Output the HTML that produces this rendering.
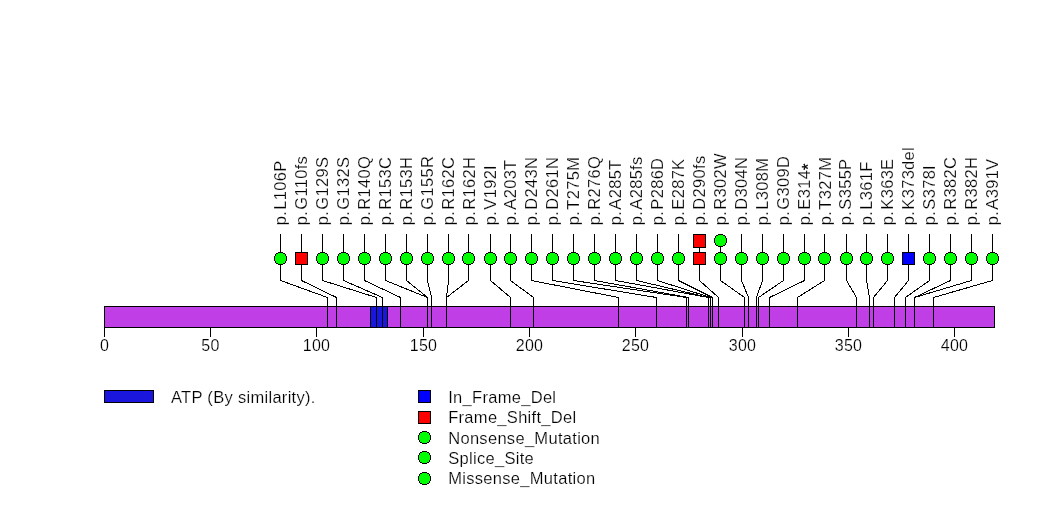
<!DOCTYPE html>
<html lang="en"><head><meta charset="utf-8"><title>Lollipop plot</title>
<style>
html,body{margin:0;padding:0;background:#fff;}
body{width:1047px;height:524px;overflow:hidden;}
svg{display:block;font-family:"Liberation Sans",sans-serif;font-size:16.5px;letter-spacing:0.3px;fill:#000;}
text{stroke:#fff;stroke-width:0.2px;}
.l{stroke:#000;stroke-width:1;fill:none;shape-rendering:crispEdges;}
.a{font-size:16px;letter-spacing:0.3px;}
</style></head><body>
<svg width="1047" height="524" viewBox="0 0 1047 524">
<rect x="0" y="0" width="1047" height="524" fill="#fff"/>

<defs><g id="c" shape-rendering="crispEdges"><path fill="#00ff00" d="M-2,-6h5v1h-5zM-4,-5h9v1h-9zM-5,-4h11v1h-11zM-5,-3h11v1h-11zM-6,-2h13v1h-13zM-6,-1h13v1h-13zM-6,0h13v1h-13zM-6,1h13v1h-13zM-6,2h13v1h-13zM-5,3h11v1h-11zM-5,4h11v1h-11zM-4,5h9v1h-9zM-2,6h5v1h-5z"/><path fill="#000" d="M-2,-6h5v1h-5zM-4,-5h2v1h-2zM3,-5h2v1h-2zM-5,-4h1v1h-1zM5,-4h1v1h-1zM-5,-3h1v1h-1zM5,-3h1v1h-1zM-6,-2h1v1h-1zM6,-2h1v1h-1zM-6,-1h1v1h-1zM6,-1h1v1h-1zM-6,0h1v1h-1zM6,0h1v1h-1zM-6,1h1v1h-1zM6,1h1v1h-1zM-6,2h1v1h-1zM6,2h1v1h-1zM-5,3h1v1h-1zM5,3h1v1h-1zM-5,4h1v1h-1zM5,4h1v1h-1zM-4,5h2v1h-2zM3,5h2v1h-2zM-2,6h5v1h-5z"/></g></defs>
<rect class="l" x="104.5" y="306.5" width="890" height="21" style="fill:#bf3ee6"/>
<rect class="l" x="370.5" y="306.5" width="17" height="21" style="fill:#1a16de"/>
<line class="l" x1="104.5" y1="327" x2="104.5" y2="337"/>
<text class="a" x="104.5" y="350.8" text-anchor="middle">0</text>
<line class="l" x1="210.5" y1="327" x2="210.5" y2="337"/>
<text class="a" x="210.5" y="350.8" text-anchor="middle">50</text>
<line class="l" x1="316.5" y1="327" x2="316.5" y2="337"/>
<text class="a" x="316.5" y="350.8" text-anchor="middle">100</text>
<line class="l" x1="423.5" y1="327" x2="423.5" y2="337"/>
<text class="a" x="423.5" y="350.8" text-anchor="middle">150</text>
<line class="l" x1="529.5" y1="327" x2="529.5" y2="337"/>
<text class="a" x="529.5" y="350.8" text-anchor="middle">200</text>
<line class="l" x1="635.5" y1="327" x2="635.5" y2="337"/>
<text class="a" x="635.5" y="350.8" text-anchor="middle">250</text>
<line class="l" x1="742.5" y1="327" x2="742.5" y2="337"/>
<text class="a" x="742.5" y="350.8" text-anchor="middle">300</text>
<line class="l" x1="848.5" y1="327" x2="848.5" y2="337"/>
<text class="a" x="848.5" y="350.8" text-anchor="middle">350</text>
<line class="l" x1="954.5" y1="327" x2="954.5" y2="337"/>
<text class="a" x="954.5" y="350.8" text-anchor="middle">400</text>
<polyline class="l" points="280.5,234 280.5,280.5 327.5,297.5 327.5,327"/>
<polyline class="l" points="301.5,234 301.5,280.5 336.5,297.5 336.5,327"/>
<polyline class="l" points="322.5,234 322.5,280.5 376.5,297.5 376.5,327"/>
<polyline class="l" points="343.5,234 343.5,280.5 382.5,297.5 382.5,327"/>
<polyline class="l" points="364.5,234 364.5,280.5 400.5,297.5 400.5,327"/>
<polyline class="l" points="385.5,234 385.5,280.5 427.5,297.5 427.5,327"/>
<polyline class="l" points="406.5,234 406.5,280.5 427.5,297.5 427.5,327"/>
<polyline class="l" points="427.5,234 427.5,280.5 431.5,297.5 431.5,327"/>
<polyline class="l" points="448.5,234 448.5,280.5 446.5,297.5 446.5,327"/>
<polyline class="l" points="468.5,234 468.5,280.5 446.5,297.5 446.5,327"/>
<polyline class="l" points="490.5,234 490.5,280.5 510.5,297.5 510.5,327"/>
<polyline class="l" points="510.5,234 510.5,280.5 533.5,297.5 533.5,327"/>
<polyline class="l" points="531.5,234 531.5,280.5 618.5,297.5 618.5,327"/>
<polyline class="l" points="552.5,234 552.5,280.5 656.5,297.5 656.5,327"/>
<polyline class="l" points="573.5,234 573.5,280.5 686.5,297.5 686.5,327"/>
<polyline class="l" points="594.5,234 594.5,280.5 688.5,297.5 688.5,327"/>
<polyline class="l" points="615.5,234 615.5,280.5 708.5,297.5 708.5,327"/>
<polyline class="l" points="636.5,234 636.5,280.5 708.5,297.5 708.5,327"/>
<polyline class="l" points="657.5,234 657.5,280.5 710.5,297.5 710.5,327"/>
<polyline class="l" points="678.5,234 678.5,280.5 712.5,297.5 712.5,327"/>
<polyline class="l" points="699.5,234 699.5,280.5 718.5,297.5 718.5,327"/>
<polyline class="l" points="720.5,234 720.5,280.5 744.5,297.5 744.5,327"/>
<polyline class="l" points="741.5,234 741.5,280.5 748.5,297.5 748.5,327"/>
<polyline class="l" points="762.5,234 762.5,280.5 756.5,297.5 756.5,327"/>
<polyline class="l" points="783.5,234 783.5,280.5 758.5,297.5 758.5,327"/>
<polyline class="l" points="804.5,234 804.5,280.5 769.5,297.5 769.5,327"/>
<polyline class="l" points="824.5,234 824.5,280.5 797.5,297.5 797.5,327"/>
<polyline class="l" points="846.5,234 846.5,280.5 856.5,297.5 856.5,327"/>
<polyline class="l" points="866.5,234 866.5,280.5 869.5,297.5 869.5,327"/>
<polyline class="l" points="887.5,234 887.5,280.5 873.5,297.5 873.5,327"/>
<polyline class="l" points="908.5,234 908.5,280.5 894.5,297.5 894.5,327"/>
<polyline class="l" points="929.5,234 929.5,280.5 905.5,297.5 905.5,327"/>
<polyline class="l" points="950.5,234 950.5,280.5 914.5,297.5 914.5,327"/>
<polyline class="l" points="971.5,234 971.5,280.5 914.5,297.5 914.5,327"/>
<polyline class="l" points="992.5,234 992.5,280.5 933.5,297.5 933.5,327"/>
<use href="#c" x="280" y="258"/>
<rect class="l" x="295.5" y="252.5" width="12" height="12" style="fill:#ff0000"/>
<use href="#c" x="322" y="258"/>
<use href="#c" x="343" y="258"/>
<use href="#c" x="364" y="258"/>
<use href="#c" x="385" y="258"/>
<use href="#c" x="406" y="258"/>
<use href="#c" x="427" y="258"/>
<use href="#c" x="448" y="258"/>
<use href="#c" x="468" y="258"/>
<use href="#c" x="490" y="258"/>
<use href="#c" x="510" y="258"/>
<use href="#c" x="531" y="258"/>
<use href="#c" x="552" y="258"/>
<use href="#c" x="573" y="258"/>
<use href="#c" x="594" y="258"/>
<use href="#c" x="615" y="258"/>
<use href="#c" x="636" y="258"/>
<use href="#c" x="657" y="258"/>
<use href="#c" x="678" y="258"/>
<rect class="l" x="693.5" y="252.5" width="12" height="12" style="fill:#ff0000"/>
<rect class="l" x="693.5" y="234.5" width="12" height="13" style="fill:#ff0000"/>
<use href="#c" x="720" y="258"/>
<use href="#c" x="720" y="240"/>
<use href="#c" x="741" y="258"/>
<use href="#c" x="762" y="258"/>
<use href="#c" x="783" y="258"/>
<use href="#c" x="804" y="258"/>
<use href="#c" x="824" y="258"/>
<use href="#c" x="846" y="258"/>
<use href="#c" x="866" y="258"/>
<use href="#c" x="887" y="258"/>
<rect class="l" x="902.5" y="252.5" width="12" height="12" style="fill:#0000ff"/>
<use href="#c" x="929" y="258"/>
<use href="#c" x="950" y="258"/>
<use href="#c" x="971" y="258"/>
<use href="#c" x="992" y="258"/>
<text transform="translate(286.0,225.3) rotate(-90)">p.<tspan dx="1.3">L106P</tspan></text>
<text transform="translate(307.0,225.3) rotate(-90)">p.<tspan dx="1.3">G110fs</tspan></text>
<text transform="translate(328.0,225.3) rotate(-90)">p.<tspan dx="1.3">G129S</tspan></text>
<text transform="translate(349.0,225.3) rotate(-90)">p.<tspan dx="1.3">G132S</tspan></text>
<text transform="translate(370.0,225.3) rotate(-90)">p.<tspan dx="1.3">R140Q</tspan></text>
<text transform="translate(391.0,225.3) rotate(-90)">p.<tspan dx="1.3">R153C</tspan></text>
<text transform="translate(412.0,225.3) rotate(-90)">p.<tspan dx="1.3">R153H</tspan></text>
<text transform="translate(433.0,225.3) rotate(-90)">p.<tspan dx="1.3">G155R</tspan></text>
<text transform="translate(454.0,225.3) rotate(-90)">p.<tspan dx="1.3">R162C</tspan></text>
<text transform="translate(475.0,225.3) rotate(-90)">p.<tspan dx="1.3">R162H</tspan></text>
<text transform="translate(496.0,225.3) rotate(-90)">p.<tspan dx="1.3">V192I</tspan></text>
<text transform="translate(516.0,225.3) rotate(-90)">p.<tspan dx="1.3">A203T</tspan></text>
<text transform="translate(537.0,225.3) rotate(-90)">p.<tspan dx="1.3">D243N</tspan></text>
<text transform="translate(558.0,225.3) rotate(-90)">p.<tspan dx="1.3">D261N</tspan></text>
<text transform="translate(579.0,225.3) rotate(-90)">p.<tspan dx="1.3">T275M</tspan></text>
<text transform="translate(600.0,225.3) rotate(-90)">p.<tspan dx="1.3">R276Q</tspan></text>
<text transform="translate(621.0,225.3) rotate(-90)">p.<tspan dx="1.3">A285T</tspan></text>
<text transform="translate(642.0,225.3) rotate(-90)">p.<tspan dx="1.3">A285fs</tspan></text>
<text transform="translate(663.0,225.3) rotate(-90)">p.<tspan dx="1.3">P286D</tspan></text>
<text transform="translate(684.0,225.3) rotate(-90)">p.<tspan dx="1.3">E287K</tspan></text>
<text transform="translate(705.0,225.3) rotate(-90)">p.<tspan dx="1.3">D290fs</tspan></text>
<text transform="translate(726.0,225.3) rotate(-90)">p.<tspan dx="1.3">R302W</tspan></text>
<text transform="translate(747.0,225.3) rotate(-90)">p.<tspan dx="1.3">D304N</tspan></text>
<text transform="translate(768.0,225.3) rotate(-90)">p.<tspan dx="1.3">L308M</tspan></text>
<text transform="translate(789.0,225.3) rotate(-90)">p.<tspan dx="1.3">G309D</tspan></text>
<text transform="translate(810.0,225.3) rotate(-90)">p.<tspan dx="1.3">E314<tspan dy="4.3" style="stroke:#000;stroke-width:0.3px">*</tspan></tspan></text>
<text transform="translate(831.0,225.3) rotate(-90)">p.<tspan dx="1.3">T327M</tspan></text>
<text transform="translate(851.0,225.3) rotate(-90)">p.<tspan dx="1.3">S355P</tspan></text>
<text transform="translate(872.0,225.3) rotate(-90)">p.<tspan dx="1.3">L361F</tspan></text>
<text transform="translate(893.0,225.3) rotate(-90)">p.<tspan dx="1.3">K363E</tspan></text>
<text transform="translate(914.0,225.3) rotate(-90)">p.<tspan dx="1.3">K373del</tspan></text>
<text transform="translate(935.0,225.3) rotate(-90)">p.<tspan dx="1.3">S378I</tspan></text>
<text transform="translate(956.0,225.3) rotate(-90)">p.<tspan dx="1.3">R382C</tspan></text>
<text transform="translate(977.0,225.3) rotate(-90)">p.<tspan dx="1.3">R382H</tspan></text>
<text transform="translate(998.0,225.3) rotate(-90)">p.<tspan dx="1.3">A391V</tspan></text>
<rect class="l" x="104.5" y="390.5" width="49" height="12" style="fill:#1a16de"/>
<text x="171" y="403">ATP (By similarity).</text>
<rect class="l" x="418.5" y="390.5" width="12" height="12" style="fill:#0000ff"/>
<text x="448.2" y="402.6">In_Frame_Del</text>
<rect class="l" x="418.5" y="411.5" width="12" height="12" style="fill:#ff0000"/>
<text x="448.2" y="422.95">Frame_Shift_Del</text>
<use href="#c" x="424" y="437"/>
<text x="448.2" y="444.0">Nonsense_Mutation</text>
<use href="#c" x="424" y="457"/>
<text x="448.2" y="463.65">Splice_Site</text>
<use href="#c" x="424" y="478"/>
<text x="448.2" y="484.0">Missense_Mutation</text>
</svg></body></html>
